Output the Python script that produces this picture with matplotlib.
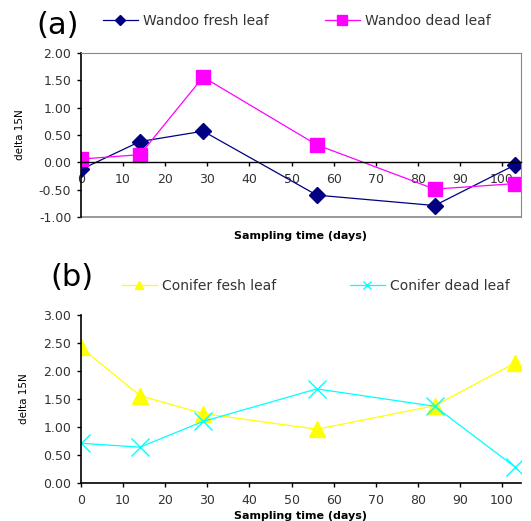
import matplotlib
matplotlib.use("Agg")
import matplotlib.pyplot as plt
from matplotlib.lines import Line2D

plt.rcParams['font.family'] = ['DejaVu Sans']

days = [0, 14, 29, 56, 84, 103]
wandoo_fresh = [-0.13, 0.38, 0.57, -0.60, -0.79, -0.05]
wandoo_dead = [0.06, 0.14, 1.56, 0.32, -0.49, -0.39]
conifer_fresh = [2.42, 1.56, 1.24, 0.96, 1.38, 2.14]
conifer_dead = [0.71, 0.64, 1.10, 1.68, 1.37, 0.29]

xticks = [0, 10, 20, 30, 40, 50, 60, 70, 80, 90, 100]
yticks_a = [-1.0, -0.5, 0.0, 0.5, 1.0, 1.5, 2.0]
yticks_b = [0.0, 0.5, 1.0, 1.5, 2.0, 2.5, 3.0]

W, H = 531, 521
fig = plt.figure(figsize=(W/100, H/100), dpi=100)

TICK_FS = 9
TXT = '#333333'


def add_entry(x_px, y_px, color, marker, ms, label, mew=1.0):
    h = Line2D([], [], color=color, marker=marker, ms=ms, lw=0.9, mew=mew)
    leg = fig.legend([h], [label], loc='center left',
                     bbox_to_anchor=(x_px/W, 1-y_px/H),
                     frameon=False, fontsize=10, handlelength=2.5,
                     handletextpad=0.4, borderpad=0, borderaxespad=0,
                     labelcolor=TXT)
    return leg


# ---- panel (a)
ax1 = fig.add_axes([81/W, 1-217/H, 440/W, 164/H])
ax1.plot(days, wandoo_fresh, color='#000080', marker='D', ms=8, lw=0.9)
ax1.plot(days, wandoo_dead, color='#FF00FF', marker='s', ms=10, lw=0.9)
ax1.set_xlim(0, 104.5)
ax1.set_ylim(-1.0, 2.0)
ax1.set_xticks(xticks)
ax1.set_yticks(yticks_a)
ax1.set_yticklabels([f"{v:.2f}" for v in yticks_a])
ax1.spines['bottom'].set_position(('data', 0))
ax1.spines['bottom'].set_linewidth(1.0)
ax1.spines['left'].set_linewidth(1.2)
for s in ['top', 'right']:
    ax1.spines[s].set_color('#888888')
    ax1.spines[s].set_linewidth(0.8)
ax1.axhline(-1.0, color='#888888', lw=1.2, clip_on=False)
ax1.tick_params(axis='y', labelsize=TICK_FS, length=3, width=1, pad=4,
                labelcolor=TXT)
ax1.tick_params(axis='x', labelsize=TICK_FS, length=3, width=1, pad=5,
                labelcolor=TXT)
ax1.set_ylabel('delta 15N', fontsize=7.5, labelpad=10)
ax1.text(0.5, -0.085, 'Sampling time (days)', transform=ax1.transAxes,
         ha='center', va='top', fontsize=8, fontweight='bold')
fig.text(36/W, 1-25/H, '(a)', fontsize=22, va='center', ha='left')
add_entry(103, 21, '#000080', 'D', 5, 'Wandoo fresh leaf')
add_entry(325, 21, '#FF00FF', 's', 7, 'Wandoo dead leaf')

# ---- panel (b)
ax2 = fig.add_axes([81/W, 1-483/H, 440/W, 168/H])
ax2.plot(days, conifer_fresh, color='#FFFF00', marker='^', ms=11, lw=0.9)
ax2.plot(days, conifer_dead, color='#00FFFF', marker='x', ms=13, mew=1.0,
         lw=0.9)
ax2.set_xlim(0, 104.5)
ax2.set_ylim(0.0, 3.0)
ax2.set_xticks(xticks)
ax2.set_yticks(yticks_b)
ax2.set_yticklabels([f"{v:.2f}" for v in yticks_b])
ax2.spines['top'].set_visible(False)
ax2.spines['right'].set_visible(False)
ax2.spines['left'].set_linewidth(1.2)
ax2.spines['bottom'].set_linewidth(1.2)
ax2.tick_params(axis='y', labelsize=TICK_FS, length=3, width=1, pad=4,
                labelcolor=TXT)
ax2.tick_params(axis='x', labelsize=TICK_FS, length=3, width=1, pad=5,
                labelcolor=TXT)
ax2.set_ylabel('delta 15N', fontsize=7.5, labelpad=10)
ax2.set_xlabel('Sampling time (days)', fontsize=8, fontweight='bold',
               labelpad=3)
fig.text(50/W, 1-278/H, '(b)', fontsize=22, va='center', ha='left')
add_entry(122, 286, '#FFFF00', '^', 6, 'Conifer fesh leaf')
add_entry(350, 286, '#00FFFF', 'x', 6, 'Conifer dead leaf')

fig.savefig('out.png', dpi=100)
